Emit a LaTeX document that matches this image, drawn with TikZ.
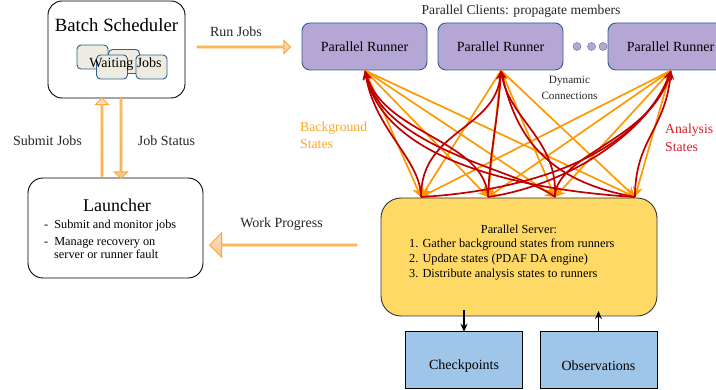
\documentclass[tikz,border=0pt]{standalone}
\usepackage{fontspec}
\setmainfont{Liberation Serif}
\usetikzlibrary{shapes.arrows,shapes.geometric,arrows.meta}
\definecolor{blockline}{HTML}{FFA733}
\definecolor{blocktop}{HTML}{FBDDBD}
\definecolor{blockbot}{HTML}{F7C592}
\definecolor{runnerfill}{HTML}{B4A7D6}
\definecolor{runnerline}{HTML}{2F5F8F}
\definecolor{serverfill}{HTML}{FFD966}
\definecolor{cylfill}{HTML}{9FC5E8}
\definecolor{waitfill}{HTML}{EEECE1}
\definecolor{orangeline}{HTML}{FF9900}
\definecolor{redline}{HTML}{C00000}
\definecolor{orangetext}{HTML}{FFA726}
\definecolor{redtext}{HTML}{D5202A}
\tikzset{
  whitebox/.style={draw=black,line width=0.9pt,rounded corners=#1,fill=white},
  waitbox/.style={draw=runnerline,line width=0.9pt,rounded corners=4pt,fill=waitfill,minimum width=31pt,minimum height=24pt,inner sep=0pt},
  runner/.style={draw=runnerline,line width=0.9pt,rounded corners=8pt,fill=runnerfill,minimum width=125pt,minimum height=47pt,inner sep=0pt,font=\fontsize{14}{16}\selectfont},
  dotnode/.style={circle,fill=runnerfill,draw=runnerline,line width=0.3pt,minimum size=8pt,inner sep=0pt},
  blockarrow/.style={single arrow,draw=blockline,line width=0.9pt,top color=blocktop,bottom color=blockbot,inner sep=0pt,shape border uses incircle=false},
  lab/.style={font=\fontsize{14}{16}\selectfont,text=black!85,inner sep=0pt},
  orangearrow/.style={draw=orangeline,line width=1.7pt,-{Stealth[length=10pt,width=10pt]},shorten >=0pt},
  redarrow/.style={draw=redline,line width=1.7pt,-{Stealth[length=9pt,width=8pt]}},
  cyl/.style={cylinder,shape border rotate=90,aspect=0.32,draw=black,line width=0.9pt,fill=cylfill,minimum width=117pt,minimum height=57pt,inner sep=0pt,font=\fontsize{14}{16}\selectfont},
  dataflow/.style={draw=black,line width=1.6pt,-{Stealth[length=8pt,width=7pt]}}
}
\begin{document}
\begin{tikzpicture}[x=1pt,y=-1pt]
\clip (0,0) rectangle (716,390);
\fill[white] (0,0) rectangle (716,390);
% Batch scheduler
\node[whitebox=14pt,minimum width=137pt,minimum height=97pt,inner sep=0pt] (batch) at (116.5,49.5) {};
\node[inner sep=0pt,font=\fontsize{18.7}{20}\selectfont] (batchlabel) at (116.5,25) {Batch Scheduler};
\node[waitbox] (w1) at (92.5,57) {};
\node[waitbox] (w2) at (124,61.5) {};
\node[waitbox] (w3) at (112,67) {};
\node[waitbox] (w4) at (151.5,67) {};
\node[inner sep=0pt,font=\fontsize{14}{16}\selectfont] (waiting) at (125.5,64.5) {Waiting Jobs};
% Launcher
\node[whitebox=15pt,minimum width=175pt,minimum height=100pt,inner sep=0pt] (launcher) at (115.5,228) {};
\node[inner sep=0pt,font=\fontsize{18}{20}\selectfont] (launcherlabel) at (117,205) {Launcher};
\node[inner sep=0pt,anchor=base west,font=\fontsize{12.3}{14}\selectfont] (l1) at (44,229) {-\hspace{6pt}Submit and monitor jobs};
\node[inner sep=0pt,anchor=base west,font=\fontsize{12.3}{14}\selectfont] (l2) at (44,245.5) {-\hspace{6pt}Manage recovery on};
\node[inner sep=0pt,anchor=base west,font=\fontsize{12.3}{14}\selectfont] (l3) at (54,259) {server or runner fault};
% Block arrows
\node[blockarrow,minimum height=93pt,minimum width=13pt,single arrow head extend=3pt] (runjobs) at (243.5,47) {};
\node[blockarrow,minimum height=78pt,minimum width=13pt,single arrow head extend=3pt,rotate=90] (submit) at (102,137.5) {};
\node[blockarrow,minimum height=80pt,minimum width=13pt,single arrow head extend=3pt,rotate=-90] (status) at (121,138) {};
\node[blockarrow,minimum height=147pt,minimum width=24pt,single arrow head extend=6pt,rotate=180] (work) at (283.5,245) {};
\node[lab,anchor=base] (runlab) at (236,37) {Run Jobs};
\node[lab,anchor=base] (sublab) at (47.5,146) {Submit Jobs};
\node[lab,anchor=base] (statlab) at (166.5,146) {Job Status};
\node[lab,anchor=base] (worklab) at (281.5,228) {Work Progress};
% Runners
\node[inner sep=0pt,font=\fontsize{13.6}{16}\selectfont,text=black!85] (clients) at (521,11) {Parallel Clients: propagate members};
\node[runner] (r1) at (364.5,46.5) {Parallel Runner};
\node[runner] (r2) at (500.5,46.5) {Parallel Runner};
\node[runner] (r3) at (670.5,46.5) {Parallel Runner};
\node[dotnode] (d1) at (577,46.5) {};
\node[dotnode] (d2) at (591.5,46.5) {};
\node[dotnode] (d3) at (603,46.5) {};
% Server
\node[draw=black!80,line width=0.9pt,rounded corners=20pt,fill=serverfill,minimum width=276pt,minimum height=118pt,inner sep=0pt] (server) at (519,257) {};
\node[inner sep=0pt,font=\fontsize{12.3}{14}\selectfont] (st) at (519,229) {Parallel Server:};
\node[inner sep=0pt,anchor=base west,font=\fontsize{12.3}{14}\selectfont] (s1t) at (409,248) {1. Gather background states from runners};
\node[inner sep=0pt,anchor=base west,font=\fontsize{12.3}{14}\selectfont] (s2t) at (409,263) {2. Update states (PDAF DA engine)};
\node[inner sep=0pt,anchor=base west,font=\fontsize{12.3}{14}\selectfont] (s3t) at (409,278) {3. Distribute analysis states to runners};
% Cylinders
\node[cyl] (check) at (464,360.5) {};
\node[cyl] (obs) at (598.5,360.5) {};
\node[inner sep=0pt,font=\fontsize{14}{16}\selectfont] (checkl) at (464,366) {Checkpoints};
\node[inner sep=0pt,font=\fontsize{14}{16}\selectfont] (obsl) at (598.5,366) {Observations};
\coordinate (cfrom) at (464,310);
\coordinate (oto) at (598.5,311);
\draw[dataflow] (cfrom) -- (check.before top -| cfrom);
\draw[dataflow] (obs.after top -| oto) -- (oto);
% Connection ends
\coordinate (a1) at (365,70.5);
\coordinate (a2) at (501,70.5);
\coordinate (a3) at (671,70.5);
\coordinate (b1) at (421,197);
\coordinate (b2) at (488,197);
\coordinate (b3) at (555,197);
\coordinate (b4) at (635,197);
\foreach \a in {a1,a2,a3}\foreach \b in {b1,b2,b3,b4}{\draw[orangearrow] (\a) -- (\b);}
% Red curves
\draw[redarrow] (b1) .. controls (421,160) and (375,130) .. (a1);
\draw[redarrow] (b2) .. controls (485,140) and (385,135) .. (a1);
\draw[redarrow] (b3) .. controls (520,170) and (385,150) .. (a1);
\draw[redarrow] (b4) .. controls (520,190) and (385,160) .. (a1);
\draw[redarrow] (b1) .. controls (421,130) and (495,130) .. (a2);
\draw[redarrow] (b2) .. controls (490,150) and (498,120) .. (a2);
\draw[redarrow] (b3) .. controls (558,140) and (510,120) .. (a2);
\draw[redarrow] (b4) .. controls (540,180) and (515,130) .. (a2);
\draw[redarrow] (b1) .. controls (540,190) and (640,150) .. (a3);
\draw[redarrow] (b2) .. controls (570,185) and (650,130) .. (a3);
\draw[redarrow] (b3) .. controls (555,155) and (650,140) .. (a3);
\draw[redarrow] (b4) .. controls (635,140) and (665,130) .. (a3);
% Labels
\node[inner sep=0pt,anchor=base west,font=\fontsize{13.7}{16}\selectfont,text=orangetext] (bg1) at (300,132) {Background};
\node[inner sep=0pt,anchor=base west,font=\fontsize{13.7}{16}\selectfont,text=orangetext] (bg2) at (300,149) {States};
\node[inner sep=0pt,anchor=base west,font=\fontsize{13.7}{16}\selectfont,text=redtext] (an1) at (665,134) {Analysis};
\node[inner sep=0pt,anchor=base west,font=\fontsize{13.7}{16}\selectfont,text=redtext] (an2) at (665,152) {States};
\node[inner sep=0pt,font=\fontsize{11.2}{13}\selectfont,text=black!85] (dy1) at (569.5,81) {Dynamic};
\node[inner sep=0pt,font=\fontsize{11.2}{13}\selectfont,text=black!85] (dy2) at (569.5,96) {Connections};
\end{tikzpicture}
\end{document}
